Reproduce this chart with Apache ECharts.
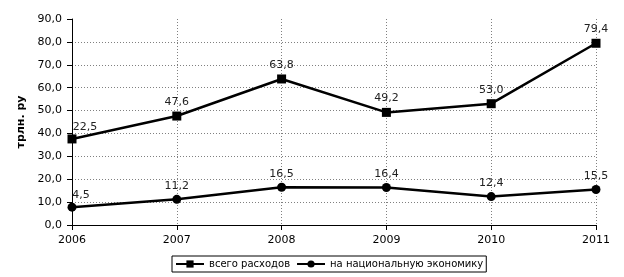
<!DOCTYPE html>
<html>
<head>
<meta charset="utf-8">
<script src="https://cdn.jsdelivr.net/npm/echarts@6/dist/echarts.min.js"></script>
<style>
  html, body { margin: 0; padding: 0; background: #fff; }
  #chart { width: 624px; height: 277px; }
</style>
</head>
<body>
<div id="chart"></div>
<script>
// данные
const years = ['2006', '2007', '2008', '2009', '2010', '2011'];
const totalValues = [37.6, 47.6, 63.8, 49.2, 53.0, 79.4];
const totalLabels = ['22,5', '47,6', '63,8', '49,2', '53,0', '79,4'];
const economyValues = [7.8, 11.2, 16.5, 16.4, 12.4, 15.5];
const economyLabels = ['4,5', '11,2', '16,5', '16,4', '12,4', '15,5'];

const chart = echarts.init(document.getElementById('chart'));
const font = 'DejaVu Sans, Verdana, sans-serif';

// подписи точек берутся из массивов
function pointLabels(labels) {
    return function (params) {
        return labels[params.dataIndex];
    };
}

// первая подпись сдвинута вправо
function makeData(values, firstOffset) {
    return values.map((v, i) => i === 0
        ? { value: v, label: { offset: firstOffset } }
        : v);
}

const option = {
    animation: false,
    textStyle: { fontFamily: font },
    grid: { left: 72, right: 28, top: 19, bottom: 52 },
    legend: {
        left: 172,
        bottom: 5,
        padding: [3, 3],
        borderColor: '#000',
        borderWidth: 1,
        itemWidth: 28,
        itemHeight: 9,
        itemGap: 6,
        textStyle: { fontSize: 10, color: '#000', fontFamily: font },
        data: ['всего расходов', 'на национальную экономику']
    },
    xAxis: {
        type: 'category',
        data: years,
        boundaryGap: false,
        axisLine: { lineStyle: { color: '#000', width: 1 } },
        axisTick: { show: true, length: 5, lineStyle: { color: '#000' } },
        axisLabel: { color: '#000', fontSize: 11, margin: 10, fontFamily: font },
        splitLine: { show: true, lineStyle: { color: '#808080', type: [1, 2] } }
    },
    yAxis: {
        type: 'value',
        min: 0,
        max: 90,
        interval: 10,
        name: 'трлн. ру',
        nameLocation: 'middle',
        nameGap: 38,
        nameTextStyle: { fontSize: 11, fontWeight: 'bold', color: '#000', fontFamily: font },
        axisLine: { show: true, lineStyle: { color: '#000', width: 1 } },
        axisTick: { show: true, length: 5, lineStyle: { color: '#000' } },
        axisLabel: {
            color: '#000',
            fontSize: 11,
            margin: 10,
            fontFamily: font,
            formatter: v => v.toFixed(1).replace('.', ',')
        },
        splitLine: {
            show: true,
            showMaxLine: false,
            lineStyle: { color: '#808080', type: [1, 2] }
        }
    },
    series: [
        {
            name: 'всего расходов',
            type: 'line',
            data: makeData(totalValues, [13, 2]),
            symbol: 'rect',
            symbolSize: 9,
            itemStyle: { color: '#000' },
            lineStyle: { color: '#000', width: 2.5 },
            label: {
                show: true,
                position: 'top',
                distance: 4,
                fontSize: 11,
                color: '#222',
                fontFamily: font,
                formatter: pointLabels(totalLabels)
            }
        },
        {
            name: 'на национальную экономику',
            type: 'line',
            data: makeData(economyValues, [9, 1]),
            symbol: 'circle',
            symbolSize: 9,
            itemStyle: { color: '#000' },
            lineStyle: { color: '#000', width: 2.5 },
            label: {
                show: true,
                position: 'top',
                distance: 3,
                fontSize: 11,
                color: '#222',
                fontFamily: font,
                formatter: pointLabels(economyLabels)
            }
        }
    ]
};

chart.setOption(option);
</script>
</body>
</html>
